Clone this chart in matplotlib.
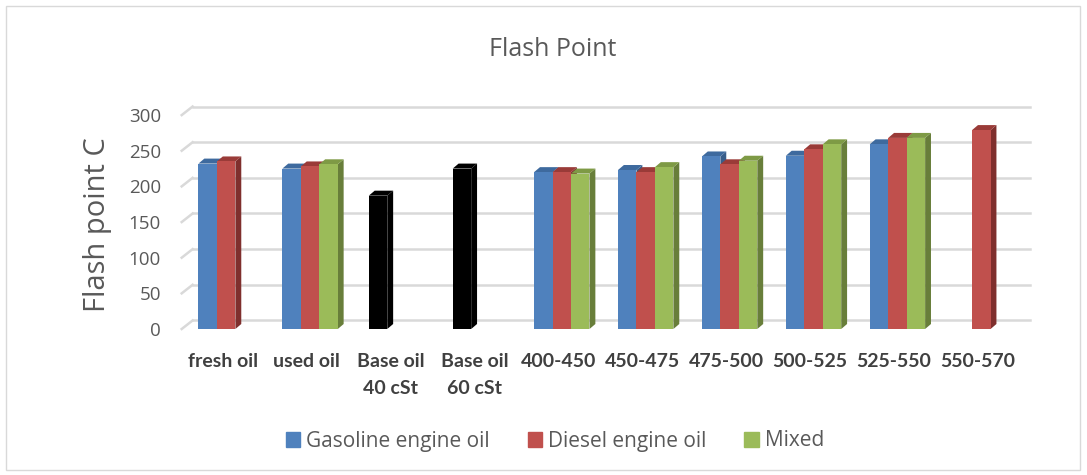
import matplotlib.pyplot as plt
import numpy as np
from matplotlib.patches import Polygon, Patch, Rectangle

categories = ["fresh oil", "used oil", "Base oil\n40 cSt", "Base oil\n60 cSt",
              "400-450", "450-475", "475-500", "500-525", "525-550", "550-570"]
gasoline = [232, 225, 187, 225, 220, 223, 242, 243, 259, np.nan]
diesel = [235, 228, np.nan, np.nan, 220, 220, 231, 252, 268, 279]
mixed = [np.nan, 231, np.nan, np.nan, 218, 227, 236, 259, 268, np.nan]
base_oil_idx = [2, 3]  # these gasoline points are drawn black (base oils)
series_names = ["Gasoline engine oil", "Diesel engine oil", "Mixed"]

face = ["#4F81BD", "#C0504D", "#9BBB59"]
side = ["#385D8A", "#7F2F2D", "#687E3A"]
top = ["#3E6A9E", "#9A3B38", "#7E9A45"]

W, H = 1087, 475
fig = plt.figure(figsize=(W / 100, H / 100), dpi=100)
fig.patches.append(Rectangle((6 / W, 5 / H), 1 - 13 / W, 1 - 11 / H, transform=fig.transFigure,
                             fill=False, edgecolor="#D9D9D9", lw=1))

# axes placed in pixels: x 181.7..1030, y value 0 at 329 px from top
px = 0.713  # pixels per value unit
x_left, x_right = 181.7, 1030
ymax = 320
ax = fig.add_axes([x_left / W, (H - 329) / H, (x_right - x_left) / W, ymax * px / H])
ax.set_xlim(-0.49, 9.62)
ax.set_ylim(0, ymax)
for s in ax.spines.values():
    s.set_visible(False)

# back wall gridlines with a little depth
ddx, ddy = 0.13, 12
for v in range(0, 301, 50):
    ax.plot([-0.49 + ddx, 9.62], [v + ddy, v + ddy], color="#D9D9D9", lw=1.8, zorder=1, clip_on=False)
    ax.plot([-0.49, -0.49 + ddx], [v, v + ddy], color="#D9D9D9", lw=1.8, zorder=1, clip_on=False)

# 3d-ish bars
bw = 0.22
bdx, bdy = 0.07, 7
shift = 0.04
x = np.arange(len(categories))
for k, vals in enumerate([gasoline, diesel, mixed]):
    for i, v in enumerate(vals):
        if np.isnan(v):
            continue
        xc = x[i] + shift + (k - 1) * bw
        if k == 0 and i in base_oil_idx:
            fc, sc, tc = "black", "black", "black"
            xc += 0.03
        else:
            fc, sc, tc = face[k], side[k], top[k]
        l, r = xc - bw / 2, xc + bw / 2
        ax.add_patch(Polygon([(r, 0), (r + bdx, bdy), (r + bdx, v + bdy), (r, v)],
                             closed=True, fc=sc, ec="none", zorder=2 + i * 3 + k))
        ax.add_patch(Polygon([(l, v), (l + bdx, v + bdy), (r + bdx, v + bdy), (r, v)],
                             closed=True, fc=tc, ec="none", zorder=2 + i * 3 + k))
        ax.bar(xc, v, width=bw, color=fc, edgecolor="none", zorder=2 + i * 3 + k)

ax.set_yticks(range(0, 301, 50))
ax.tick_params(axis="y", length=0, pad=15, labelsize=13.5, labelcolor="#595959")
for t in ax.get_yticklabels():
    t.set_fontfamily("Open Sans")
ax.set_xticks(x)
ax.set_xticklabels(categories, fontsize=14, fontweight="bold", color="#404040",
                   family=["Lato", "DejaVu Sans"], linespacing=1.75)
ax.tick_params(axis="x", length=0, pad=17)

fig.text(97 / W, 1 - 225 / H, "Flash point C", rotation=90, ha="center", va="center",
         fontsize=21, color="#595959", family="Open Sans")
fig.text(553 / W, 1 - 50 / H, "Flash Point", ha="center", va="center",
         fontsize=18, color="#595959", family="Open Sans")

handles = [Patch(color=c) for c in face]
leg = fig.legend(handles, series_names, loc="center", bbox_to_anchor=(555 / W, 1 - 441 / H), ncol=3,
                 frameon=False, handlelength=0.7, handleheight=0.7, handletextpad=0.3,
                 columnspacing=1.8, prop={"family": "Open Sans", "size": 15})
for t in leg.get_texts():
    t.set_color("#595959")

fig.savefig("out.png", dpi=100)
